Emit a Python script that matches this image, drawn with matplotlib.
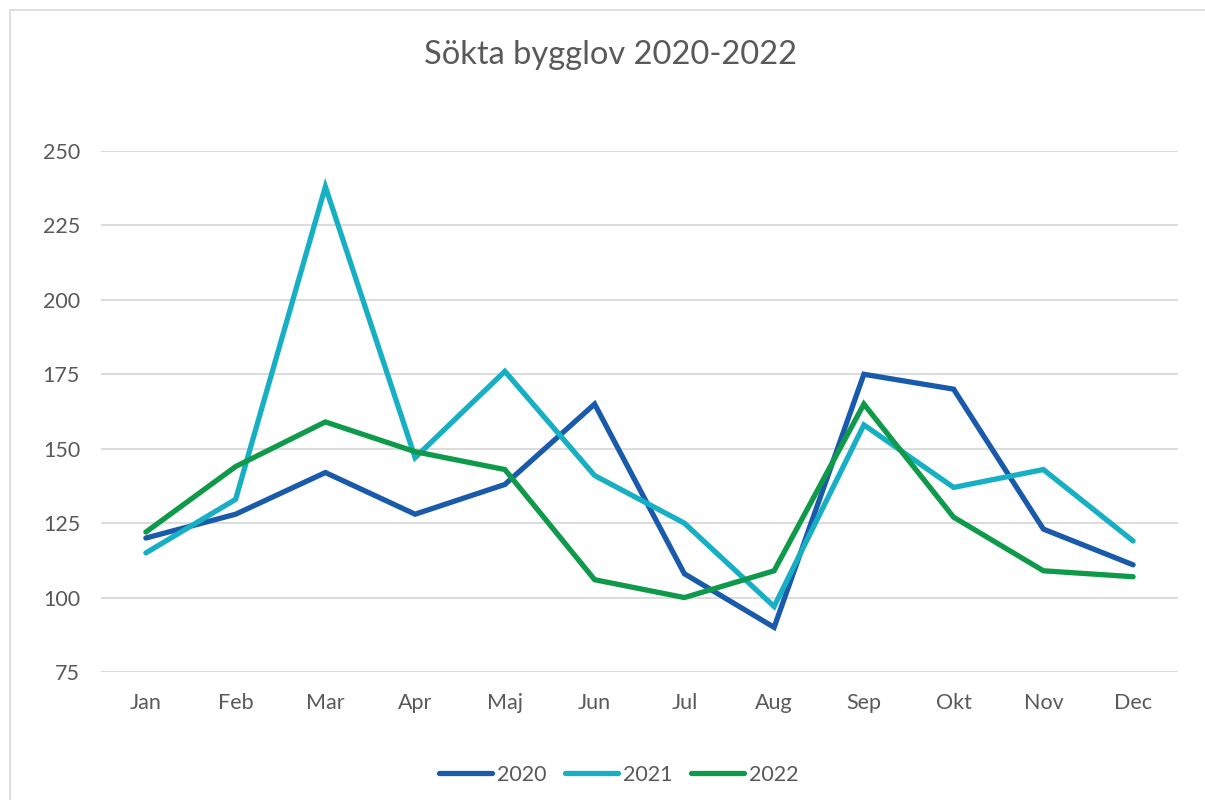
"""Sökta bygglov 2020-2022 line chart."""
import matplotlib
matplotlib.use("Agg")
import matplotlib.pyplot as plt
from matplotlib.patches import Rectangle

MONTHS = ["Jan", "Feb", "Mar", "Apr", "Maj", "Jun", "Jul", "Aug", "Sep", "Okt", "Nov", "Dec"]
YEARS = ["2020", "2021", "2022"]
S2020 = [120, 128, 142, 128, 138, 165, 108, 90, 175, 170, 123, 111]
S2021 = [115, 133, 238, 147, 176, 141, 125, 97, 158, 137, 143, 119]
S2022 = [122, 144, 159, 149, 143, 106, 100, 109, 165, 127, 109, 107]
Y_TICKS = [75, 100, 125, 150, 175, 200, 225, 250]

COLORS = ["#1A5AAB", "#17AFC3", "#0E9A4A"]
TEXT = "#595959"

plt.rcParams["font.family"] = ["Lato", "DejaVu Sans"]

fig = plt.figure(figsize=(12.05, 8), dpi=100)
ax = fig.add_axes([101 / 1205, 1 - 672 / 800, (1178 - 101) / 1205, (672 - 151) / 800])

x = list(range(len(MONTHS)))
for series, label, color in zip([S2020, S2021, S2022], YEARS, COLORS):
    ax.plot(x, series, color=color, linewidth=3.8, label=label,
            solid_joinstyle="miter", solid_capstyle="round", zorder=3)

ax.set_xlim(-0.5, len(MONTHS) - 0.5)
ax.set_ylim(75, 250)
ax.set_yticks(Y_TICKS)
ax.set_xticks(x, MONTHS)
ax.grid(axis="y", color="#D9D9D9", linewidth=1.3)
ax.set_axisbelow(True)
for side in ("top", "right", "left", "bottom"):
    ax.spines[side].set_visible(False)
ax.tick_params(length=0, labelsize=15.5, colors=TEXT)
ax.tick_params(axis="x", pad=15)
ax.tick_params(axis="y", pad=15)

fig.text(611 / 1205, 1 - 55 / 800, "Sökta bygglov 2020-2022", ha="center", va="center",
         fontsize=23.5, color=TEXT)

handles, labels = ax.get_legend_handles_labels()
fig.legend(handles, labels, loc="center", bbox_to_anchor=(619 / 1205, 1 - 775 / 800),
           ncol=3, frameon=False, fontsize=15.5, labelcolor=TEXT, handlelength=2.45,
           handletextpad=0.25, columnspacing=0.85)

fig.patches.append(Rectangle((10 / 1205, -0.01), 1.0, 1 - 10 / 800 + 0.01, transform=fig.transFigure,
                             fill=False, edgecolor="#D9D9D9", linewidth=1.2))

fig.savefig("out.png", dpi=100)
